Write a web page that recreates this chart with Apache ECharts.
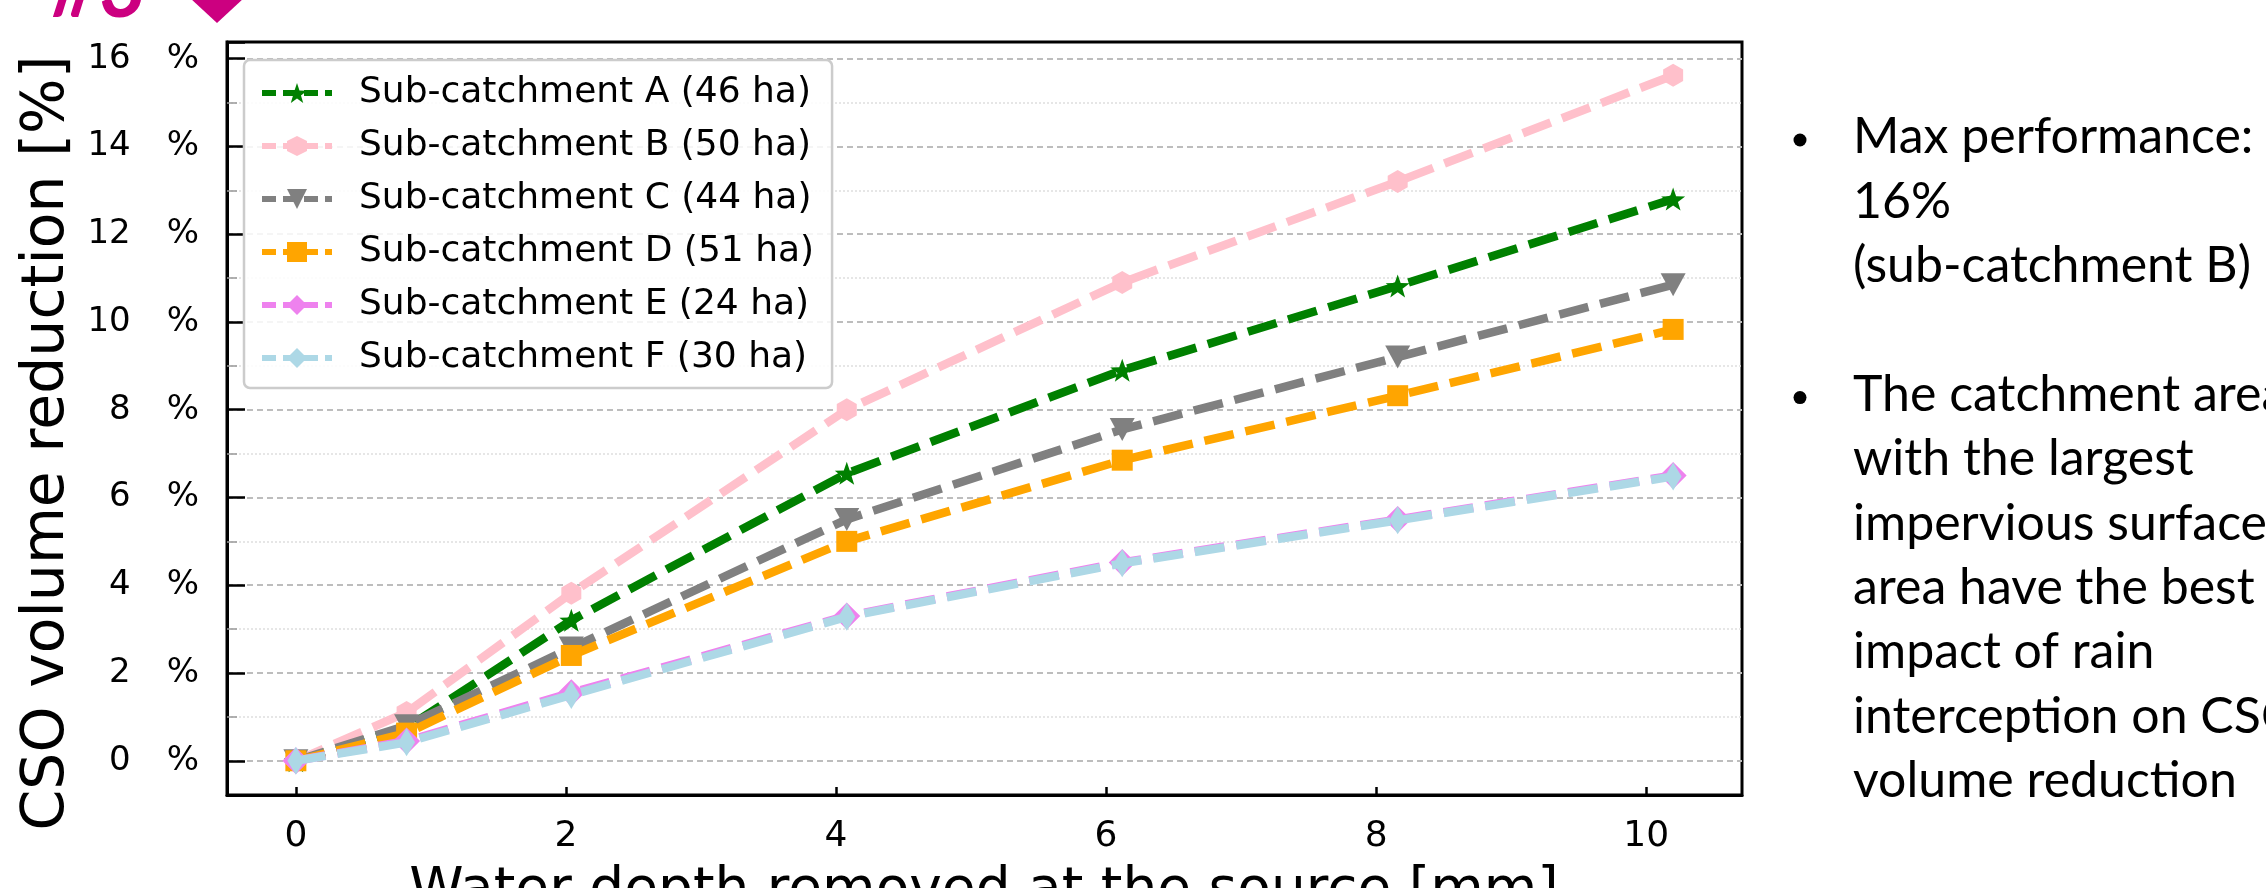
<!DOCTYPE html>
<html>
<head>
<meta charset="utf-8">
<script src="https://cdn.jsdelivr.net/npm/echarts@6/dist/echarts.min.js"></script>
<style>html,body{margin:0;padding:0;background:#fff}#chart{width:2266px;height:888px}</style>
</head>
<body>
<div id="chart"></div>
<script>
// ---- data ----
const depthMm = [0, 0.82, 2.04, 4.08, 6.12, 8.16, 10.2];
const seriesNames = [
  'Sub-catchment A (46 ha)',
  'Sub-catchment B (50 ha)',
  'Sub-catchment C (44 ha)',
  'Sub-catchment D (51 ha)',
  'Sub-catchment E (24 ha)',
  'Sub-catchment F (30 ha)'
];
const subA = [0, 0.75, 3.2, 6.55, 8.9, 10.82, 12.8];
const subB = [0, 1.1, 3.82, 8.0, 10.9, 13.2, 15.62];
const subC = [0, 0.8, 2.57, 5.5, 7.55, 9.2, 10.85];
const subD = [0, 0.63, 2.4, 5.0, 6.85, 8.32, 9.83];
const subE = [0, 0.45, 1.55, 3.3, 4.52, 5.5, 6.5];
const subF = [0, 0.42, 1.5, 3.28, 4.5, 5.48, 6.48];
const yTickValues = [0, 2, 4, 6, 8, 10, 12, 14, 16];
const xTickValues = [0, 2, 4, 6, 8, 10];
const yAxisTitle = 'CSO volume reduction [%]';
const xAxisTitle = 'Water depth removed at the source [mm]';
const slideTag = '#3';
const noteLines = [
  'Max performance:',
  '16%',
  '(sub-catchment B)',
  '',
  'The catchment area',
  'with the largest',
  'impervious surface',
  'area have the best',
  'impact of rain',
  'interception on CSO',
  'volume reduction'
];
const bulletLineIdx = [0, 4];

// ---- styles ----
function starPath() {
  let d = '';
  for (let i = 0; i < 10; i++) {
    const r = i % 2 ? 0.4 : 1;
    const a = -Math.PI / 2 + i * Math.PI / 5;
    d += (i ? 'L' : 'M') + (r * Math.cos(a)).toFixed(3) + ' ' + (r * Math.sin(a)).toFixed(3);
  }
  return 'path://' + d + 'Z';
}
function hexPath() {
  let d = '';
  for (let i = 0; i < 6; i++) {
    const a = -Math.PI / 2 + i * Math.PI / 3;
    d += (i ? 'L' : 'M') + Math.cos(a).toFixed(3) + ' ' + Math.sin(a).toFixed(3);
  }
  return 'path://' + d + 'Z';
}
const seriesValues = [subA, subB, subC, subD, subE, subF];
const colors = ['#008000', '#FFC0CB', '#808080', '#FFA500', '#EE82EE', '#ADD8E6'];
const symbols = [starPath(), hexPath(), 'triangle', 'rect', 'diamond', 'diamond'];
const symbolSizes = [[24, 23], [20, 23], [25, 23], [21, 21], [27, 27], [17, 28]];
const symbolRotates = [0, 0, 180, 0, 0, 0];
const LINE_W = 8.5;
const DASH = [30, 12];

const series = seriesValues.map((vals, k) => ({
  name: seriesNames[k],
  type: 'line',
  data: depthMm.map((x, i) => [x, vals[i]]),
  symbol: symbols[k],
  symbolSize: symbolSizes[k],
  symbolRotate: symbolRotates[k],
  showAllSymbol: true,
  color: colors[k],
  itemStyle: { color: colors[k], borderWidth: 0 },
  lineStyle: { color: colors[k], width: LINE_W, type: DASH },
  emphasis: { disabled: true },
  z: 3 + k
}));

const legendData = seriesNames.map((n, k) => ({
  name: n,
  itemStyle: { color: colors[k], borderWidth: 0 },
  lineStyle: { color: colors[k], width: 6, type: [14, 7] }
}));

const FONT = 'DejaVu Sans';
const chart = echarts.init(document.getElementById('chart'), null, { renderer: 'canvas' });

const graphics = [
  { type: 'text', x: 48, y: 443, rotation: Math.PI / 2,
    style: { text: yAxisTitle, fontFamily: FONT, fontSize: 58.5, fill: '#000', align: 'center', verticalAlign: 'middle' } },
  { type: 'text', x: 984, y: 892,
    style: { text: xAxisTitle, fontFamily: FONT, fontSize: 55, fill: '#000', align: 'center', verticalAlign: 'middle' } },
  { type: 'text', x: 50, y: 32,
    style: { text: slideTag, fontFamily: 'Lato', fontWeight: 'bold', fontStyle: 'italic', fontSize: 84, fill: '#CC0080', align: 'left', verticalAlign: 'bottom' } },
  { type: 'polygon', shape: { points: [[190, -2], [244, -2], [217, 23]] }, style: { fill: '#CC0080' } },
  { type: 'text', x: 1853, y: 137 - 32.2,
    style: { text: noteLines.join('\n'), fontFamily: 'Lato', fontSize: 50, lineHeight: 64.4, fill: '#000', align: 'left', verticalAlign: 'top' } }
];
bulletLineIdx.forEach(i => {
  graphics.push({ type: 'circle', shape: { cx: 1800, cy: 140 + i * 64.4, r: 6.5 }, style: { fill: '#000' } });
});

chart.setOption({
  animation: false,
  backgroundColor: '#ffffff',
  grid: { left: 227, top: 42, right: 524, bottom: 93, show: true, borderColor: '#000', borderWidth: 3, backgroundColor: 'transparent' },
  legend: {
    orient: 'vertical', left: 244, top: 60,
    backgroundColor: 'rgba(255,255,255,0.85)',
    borderColor: '#cccccc', borderWidth: 2.5, borderRadius: 6,
    padding: [15, 18, 12, 15],
    itemWidth: 70, itemHeight: 25, itemGap: 17,
    textStyle: { fontFamily: FONT, fontSize: 36, color: '#000', padding: [0, 0, 0, 22] },
    data: legendData
  },
  xAxis: {
    type: 'value', min: -0.51, max: 10.71, splitNumber: 5,
    axisLine: { show: true, onZero: false, lineStyle: { color: '#000', width: 3 } },
    axisTick: { show: true, inside: true, length: 8, lineStyle: { color: '#000', width: 2.5 } },
    axisLabel: { showMinLabel: false, showMaxLabel: false, margin: 24, fontFamily: FONT, fontSize: 36, color: '#000',
      formatter: v => xTickValues.some(t => Math.abs(t - v) < 1e-6) ? String(Math.round(v)) : '' },
    splitLine: { show: false }
  },
  yAxis: {
    type: 'value', min: -0.78, max: 16.38, splitNumber: 8,
    axisLine: { show: true, onZero: false, lineStyle: { color: '#000', width: 3 } },
    axisTick: { show: true, inside: true, length: 18, lineStyle: { color: '#000', width: 2.5 } },
    minorTick: { show: true, splitNumber: 2, length: 10, lineStyle: { color: '#999', width: 1.5 } },
    axisLabel: {
      showMinLabel: false, showMaxLabel: false, margin: 28, color: '#000',
      formatter: v => yTickValues.some(t => Math.abs(t - v) < 1e-6) ? '{n|' + Math.round(v) + '}{p|%}' : '',
      rich: {
        n: { fontFamily: FONT, fontSize: 34, width: 44, align: 'right', color: '#000' },
        p: { fontFamily: FONT, fontSize: 34, padding: [0, 0, 0, 36], color: '#000' }
      }
    },
    splitLine: { show: true, showMinLine: false, showMaxLine: false, lineStyle: { color: '#bdbdbd', width: 2, type: [6, 4] } },
    minorSplitLine: { show: true, lineStyle: { color: '#dedede', width: 1.5, type: [2, 2] } }
  },
  series: series,
  graphic: graphics
});
</script>
</body>
</html>
